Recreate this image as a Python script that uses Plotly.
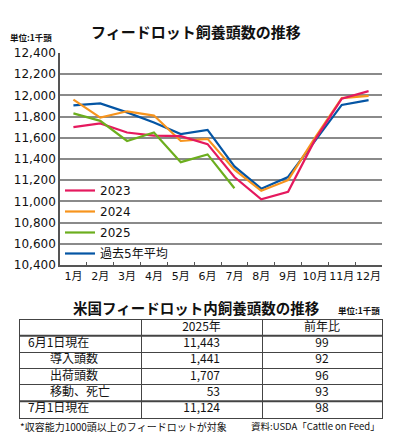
import plotly.graph_objects as go

months = ["1月", "2月", "3月", "4月", "5月", "6月", "7月", "8月", "9月", "10月", "11月", "12月"]
y2023 = [11700, 11735, 11650, 11620, 11615, 11540, 11230, 11020, 11090, 11580, 11970, 12040]
y2024 = [11960, 11790, 11850, 11810, 11570, 11590, 11300, 11100, 11200, 11600, 11975, 11995]
y2025 = [11830, 11760, 11570, 11650, 11370, 11443, 11124]
y5avg = [11905, 11925, 11840, 11745, 11635, 11675, 11330, 11120, 11230, 11570, 11910, 11955]

series_names = ["2023", "2024", "2025", "過去5年平均"]
series_colors = ["#e5195e", "#f7941d", "#6cae1e", "#0455a4"]

tbl_rows = ["6月1日現在", "導入頭数", "出荷頭数", "移動、死亡", "7月1日現在"]
tbl_indent = [False, True, True, True, False]
tbl_2025 = [11443, 1441, 1707, 53, 11124]
tbl_yoy = [99, 92, 96, 93, 98]
tbl_header = ["", "2025年", "前年比"]
tbl_colwidths = [121, 121, 120]

FONT = "DejaVu Sans, Noto Sans CJK JP, sans-serif"
JP = "Noto Sans CJK JP, sans-serif"
W, H = 398, 433
INK = "#111"
RULE = "#444"


def px(x):
    return x / W


def py(y):
    return 1 - y / H


fig = go.Figure()

# ---- line chart ----
data = [y2023, y2024, y2025, y5avg]
draw_order = [3, 1, 0, 2]
for i in draw_order:
    fig.add_trace(go.Scatter(
        x=months[:len(data[i])], y=data[i], mode="lines", name=series_names[i],
        line=dict(color=series_colors[i], width=2.2), legendrank=i + 1,
        legendgroup=series_names[i], hoverinfo="skip",
    ))

# ---- table drawn on its own axes (x: table units, y: row index) ----
bounds = [0]
for w in tbl_colwidths:
    bounds.append(bounds[-1] + w)
n_rows = len(tbl_rows) + 1  # header + body
row_idx = list(range(1, n_rows))

pad_left, pad_indent, pad_right2 = 8, 30, 42
col_centers = [(bounds[k] + bounds[k + 1]) / 2 for k in range(3)]

fig.add_trace(go.Scatter(
    x=col_centers[1:], y=[0, 0], text=tbl_header[1:], mode="text", textposition="middle center",
    textfont=dict(family=JP, size=12, color=INK), xaxis="x2", yaxis="y2",
    showlegend=False, hoverinfo="skip",
))
fig.add_trace(go.Scatter(
    x=[bounds[0] + (pad_indent if ind else pad_left) for ind in tbl_indent], y=row_idx,
    text=tbl_rows, mode="text", textposition="middle right",
    textfont=dict(family=JP, size=12, color=INK), xaxis="x2", yaxis="y2",
    showlegend=False, hoverinfo="skip",
))
fig.add_trace(go.Scatter(
    x=[bounds[2] - pad_right2] * len(tbl_2025), y=row_idx,
    text=[f"{v:,}" for v in tbl_2025], mode="text", textposition="middle left",
    textfont=dict(family=JP, size=12, color=INK), xaxis="x2", yaxis="y2",
    showlegend=False, hoverinfo="skip",
))
fig.add_trace(go.Scatter(
    x=[col_centers[2]] * len(tbl_yoy), y=row_idx,
    text=[str(v) for v in tbl_yoy], mode="text", textposition="middle center",
    textfont=dict(family=JP, size=12, color=INK), xaxis="x2", yaxis="y2",
    showlegend=False, hoverinfo="skip",
))

row_bounds = [r + 0.5 for r in range(n_rows - 1)]
thick_rows = [row_bounds[0], row_bounds[-1]]
shapes = [
    dict(type="line", xref="x2 domain", yref="y2", x0=0, x1=1, y0=r, y1=r,
         line=dict(color=RULE, width=2))
    for r in thick_rows
]

fig.update_layout(
    width=W, height=H,
    margin=dict(l=0, r=0, t=0, b=0),
    paper_bgcolor="white", plot_bgcolor="white",
    font=dict(family=FONT, size=12, color=INK),
    showlegend=True,
    legend=dict(x=px(60), y=py(176), xanchor="left", yanchor="top",
                bgcolor="rgba(0,0,0,0)", borderwidth=0,
                font=dict(family=FONT, size=12, color=INK),
                itemwidth=30, tracegroupgap=2),
    shapes=shapes,
    xaxis2=dict(domain=[px(20), px(382)], anchor="y2", range=[bounds[0], bounds[-1]],
                tickvals=bounds[1:-1], showticklabels=False, ticks="",
                showgrid=True, gridcolor=RULE, gridwidth=1, zeroline=False,
                showline=True, mirror=True, linecolor=RULE, linewidth=1, fixedrange=True),
    yaxis2=dict(domain=[py(417.5), py(319.5)], anchor="x2", range=[n_rows - 0.5, -0.5],
                tickvals=row_bounds, showticklabels=False, ticks="",
                showgrid=True, gridcolor=RULE, gridwidth=1, zeroline=False,
                showline=True, mirror=True, linecolor=RULE, linewidth=1, fixedrange=True),
    annotations=[
        dict(text="<b>フィードロット飼養頭数の推移</b>", x=px(196), y=py(32), xref="paper", yref="paper",
             showarrow=False, font=dict(family=JP, size=15, color=INK), xanchor="center", yanchor="middle"),
        dict(text="<b>単位:1千頭</b>", x=px(8), y=py(37), xref="paper", yref="paper",
             showarrow=False, font=dict(family=JP, size=8.5, color=INK), xanchor="left", yanchor="middle"),
        dict(text="<b>米国フィードロット内飼養頭数の推移</b>", x=px(196), y=py(307), xref="paper", yref="paper",
             showarrow=False, font=dict(family=JP, size=14.5, color=INK), xanchor="center", yanchor="middle"),
        dict(text="<b>単位:1千頭</b>", x=px(382), y=py(310), xref="paper", yref="paper",
             showarrow=False, font=dict(family=JP, size=8.5, color=INK), xanchor="right", yanchor="middle"),
        dict(text="*収容能力1000頭以上のフィードロットが対象", x=px(18), y=py(426), xref="paper", yref="paper",
             showarrow=False, font=dict(family=JP, size=10, color=INK), xanchor="left", yanchor="middle"),
        dict(text="資料:USDA「Cattle on Feed」", x=px(382), y=py(426), xref="paper", yref="paper",
             showarrow=False, font=dict(family=JP, size=9.5, color=INK), xanchor="right", yanchor="middle"),
    ],
)

fig.update_layout(
    xaxis=dict(
        domain=[px(60), px(382)], anchor="y",
        categoryorder="array", categoryarray=months, range=[-0.5, 11.5],
        showline=True, linecolor="#555", linewidth=1.5, showgrid=False,
        ticks="inside", tickson="boundaries", ticklen=3, tickcolor="#555", tickangle=0,
        tickfont=dict(family=FONT, size=11, color=INK), fixedrange=True, automargin=False,
    ),
    yaxis=dict(
        domain=[py(265), py(53)], anchor="x",
        range=[10400, 12400], dtick=200, tickformat=",",
        showline=True, linecolor="#555", linewidth=1.5,
        showgrid=True, gridcolor="#8a8a8a", gridwidth=1.5, zeroline=False,
        ticks="", tickfont=dict(family=FONT, size=12, color=INK), fixedrange=True, automargin=False,
    ),
)

fig.write_html(
    "out.html",
    config={"displayModeBar": False},
    post_script="document.body.style.margin='0';document.body.style.padding='0';",
)
